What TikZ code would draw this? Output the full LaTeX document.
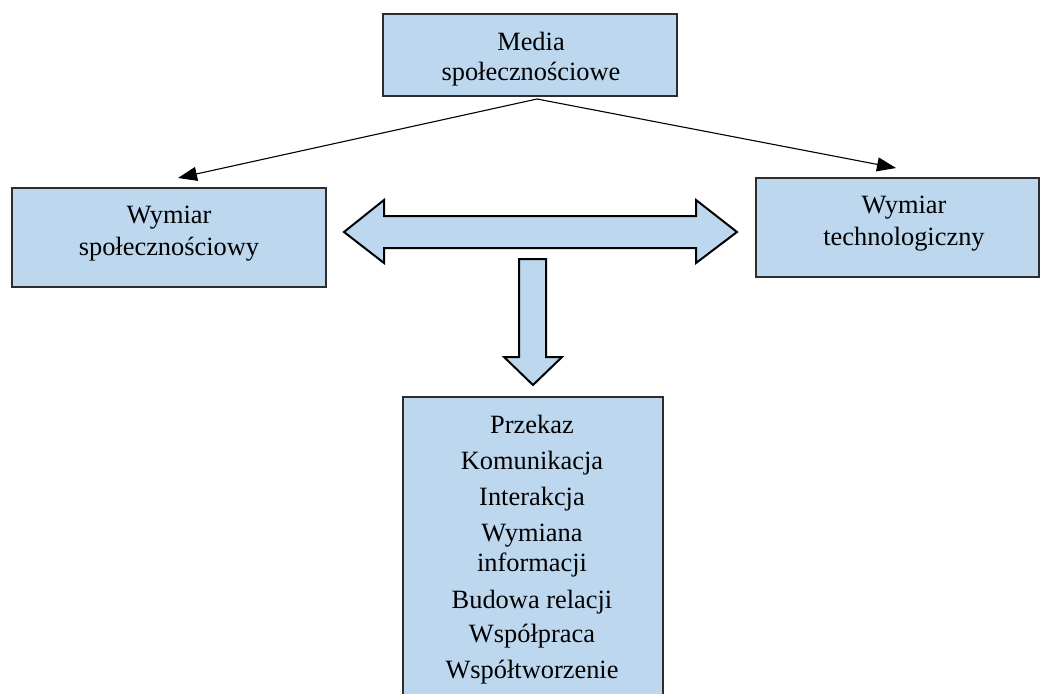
\documentclass[tikz,border=0pt]{standalone}
\usepackage{fontspec}
\setmainfont{Liberation Serif}
\usetikzlibrary{arrows.meta}
\definecolor{boxfill}{RGB}{189,215,238}
\definecolor{boxline}{RGB}{45,45,45}
\tikzset{
  box/.style={draw=boxline, fill=boxfill, line width=1.3pt},
  lbl/.style={anchor=base, inner sep=0pt, font=\fontsize{26.4}{30}\selectfont},
  link/.style={line width=1.1pt, -{Triangle[length=19pt,width=14pt]}},
  blockarrow/.style={draw=black, fill=boxfill, line width=2pt, line join=miter}
}
\begin{document}
\begin{tikzpicture}[x=1pt,y=-1pt]
\useasboundingbox (0,0) rectangle (1040,693);
\clip (0,0) rectangle (1040,693);

% boxes
\draw[box] (383,14) rectangle (677,96);
\draw[box] (12,188) rectangle (326,287);
\draw[box] (756,178) rectangle (1039,277);
\draw[box] (403,397) rectangle (663,705);

% titles
\node[lbl] (m1) at (531,50) {Media};
\node[lbl] (m2) at (531,80) {społecznościowe};
\node[lbl] (s1) at (169,223) {Wymiar};
\node[lbl] (s2) at (169,255) {społecznościowy};
\node[lbl] (t1) at (904,213) {Wymiar};
\node[lbl] (t2) at (904,245) {technologiczny};

% list of activities
\node[lbl] (p1) at (532,433) {Przekaz};
\node[lbl] (p2) at (532,469) {Komunikacja};
\node[lbl] (p3) at (532,505) {Interakcja};
\node[lbl] (p4) at (532,541) {Wymiana};
\node[lbl] (p5) at (532,571) {informacji};
\node[lbl] (p6) at (532,608) {Budowa relacji};
\node[lbl] (p7) at (532,642) {Współpraca};
\node[lbl] (p8) at (532,678) {Współtworzenie};

% connectors from the top box
\coordinate (src) at (537,99);
\coordinate (lt) at (178,178);
\coordinate (rt) at (896,168);
\draw[link] (src) -- (lt);
\draw[link] (src) -- (rt);

% horizontal double block arrow
\draw[blockarrow] (344,232) -- (384,200) -- (384,216) -- (696,216) -- (696,200)
  -- (737,232) -- (696,263) -- (696,248) -- (384,248) -- (384,263) -- cycle;

% downward block arrow
\draw[blockarrow] (519,259) -- (546,259) -- (546,357) -- (562,357) -- (533,385)
  -- (504,357) -- (519,357) -- cycle;
\end{tikzpicture}
\end{document}
